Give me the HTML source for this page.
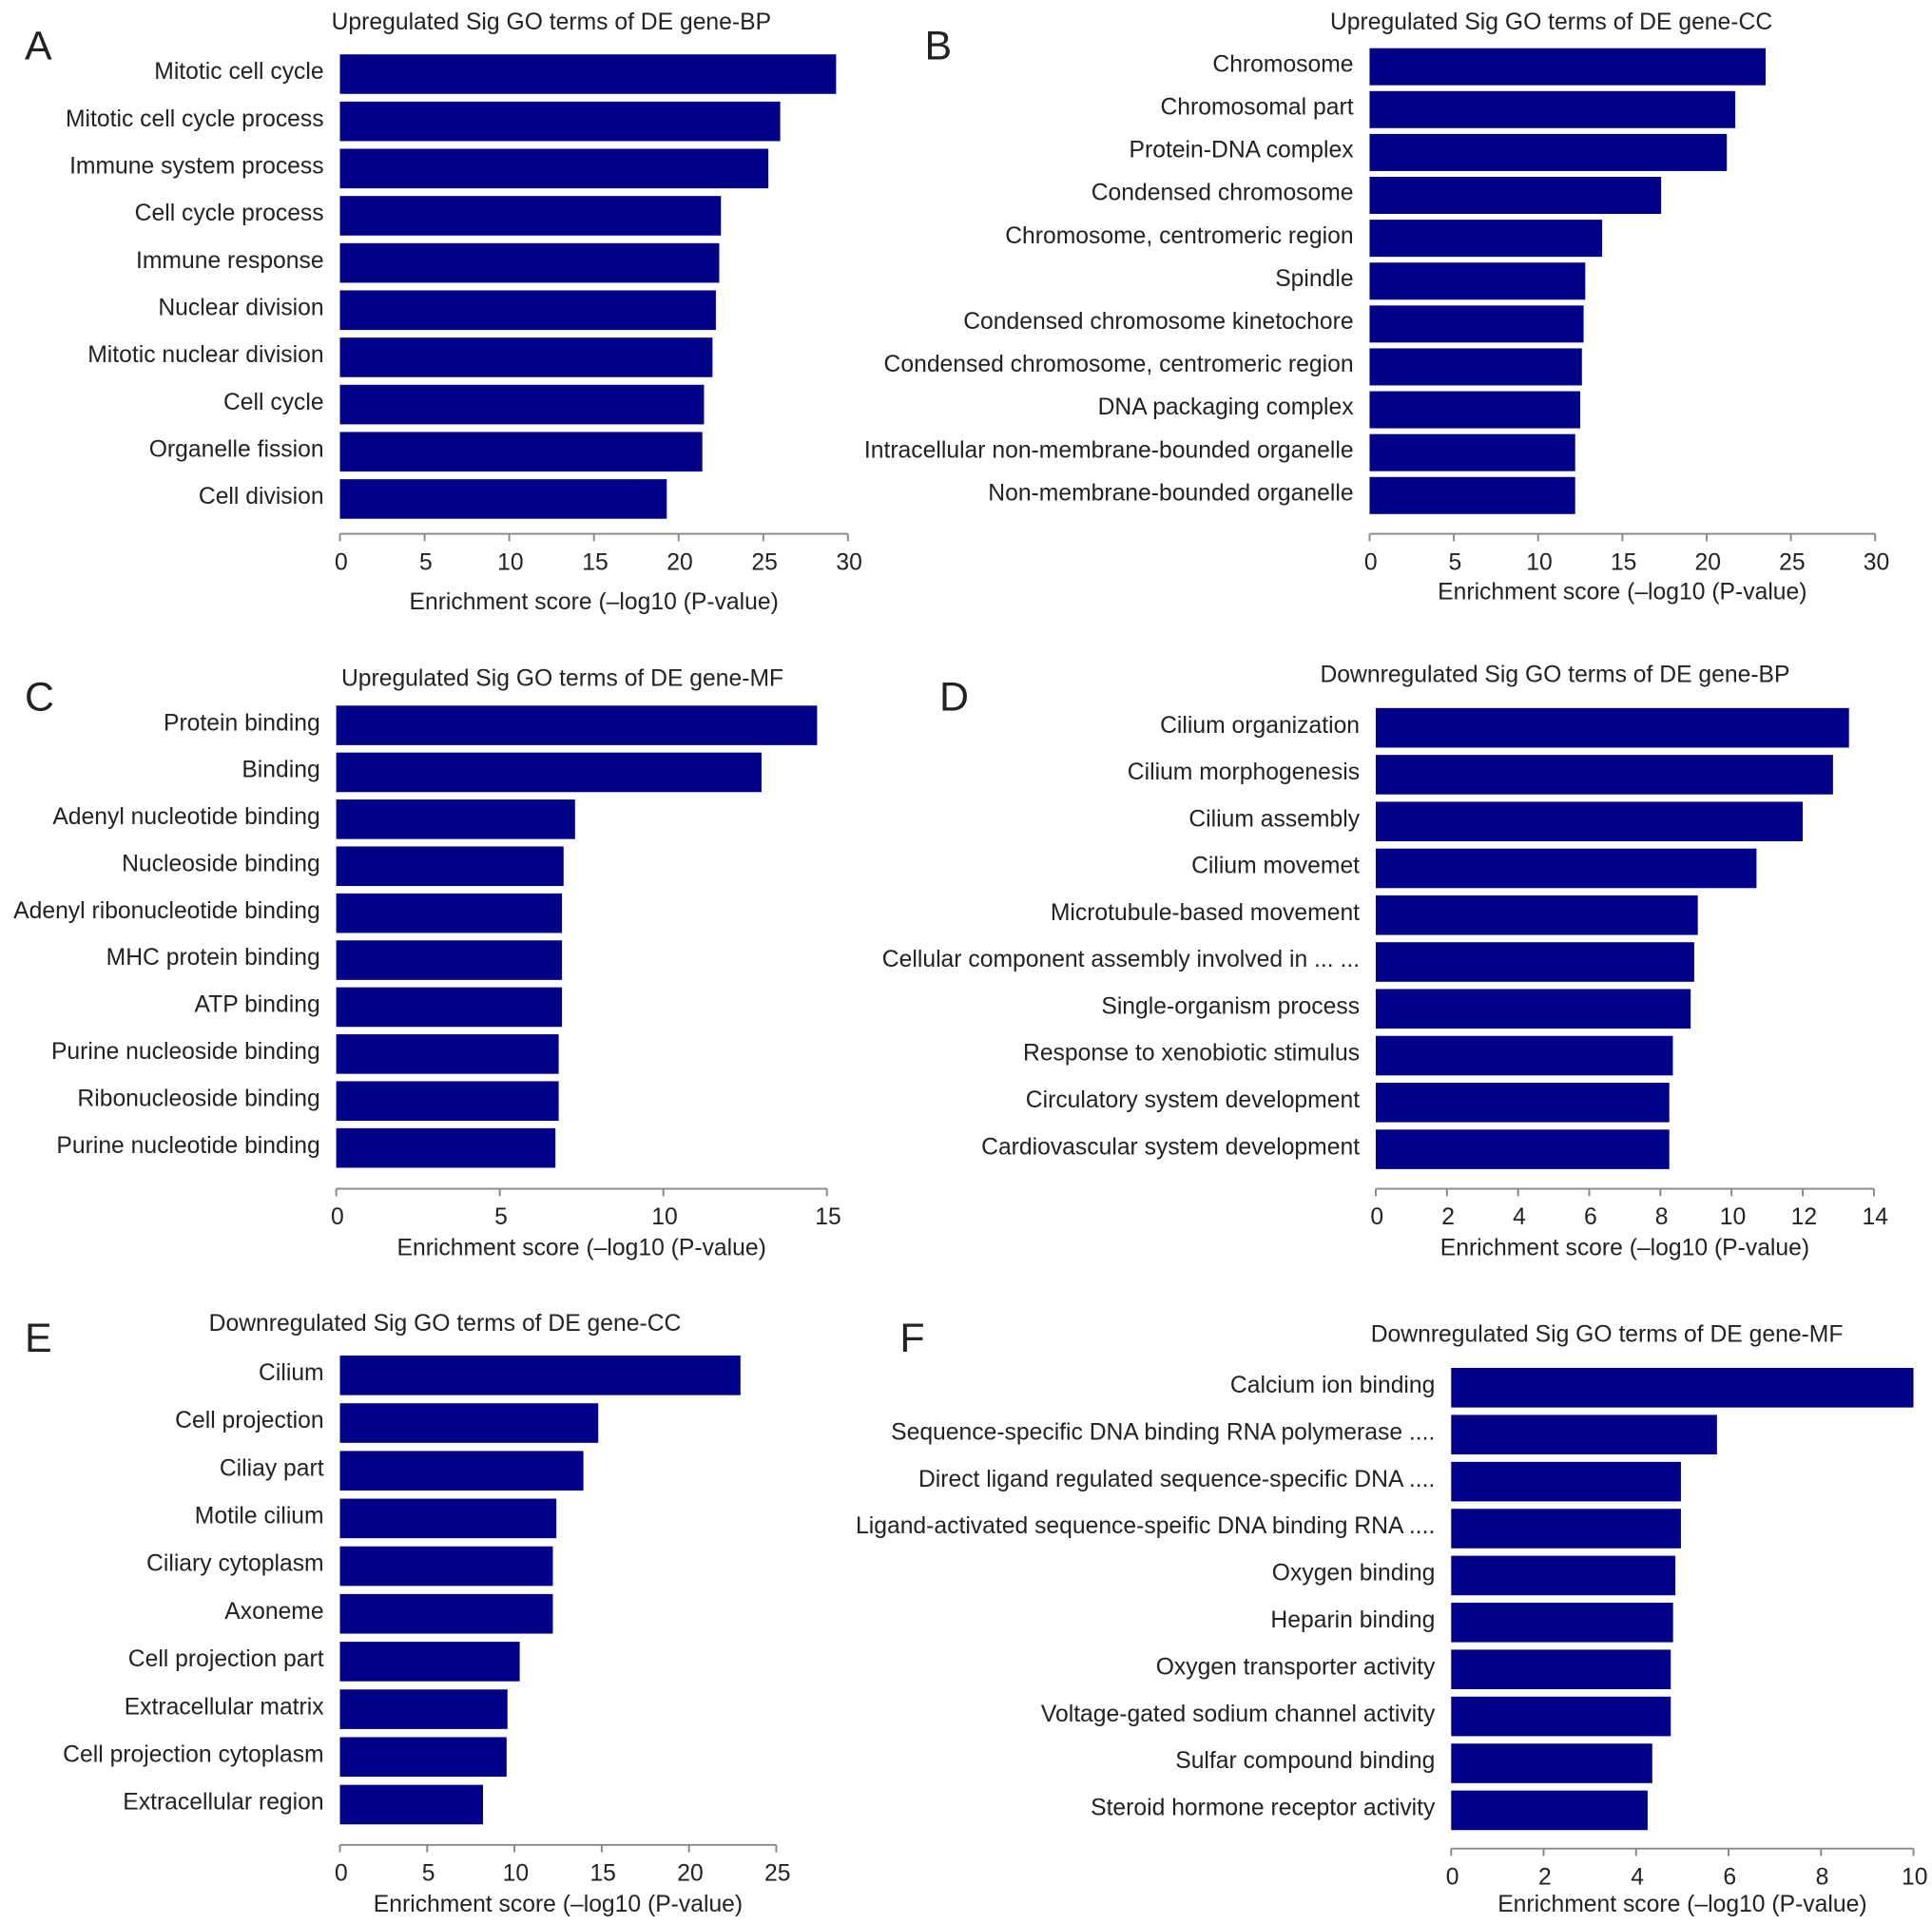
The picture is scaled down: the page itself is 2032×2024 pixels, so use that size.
<!DOCTYPE html>
<html><head><meta charset="utf-8"><style>
html,body{margin:0;padding:0;background:#fff}
svg{display:block}
text{font-family:"Liberation Sans",Arial,sans-serif;fill:#222}
</style></head><body>
<svg id="fig" width="2032" height="2024" viewBox="0 0 1563 1557" preserveAspectRatio="none" xmlns="http://www.w3.org/2000/svg"></svg>
<script>
const catsA=["Mitotic cell cycle","Mitotic cell cycle process","Immune system process","Cell cycle process","Immune response","Nuclear division","Mitotic nuclear division","Cell cycle","Organelle fission","Cell division"];
const valsA=[29.3,26,25.3,22.5,22.4,22.2,22.0,21.5,21.4,19.3];
const ticksA=[0,5,10,15,20,25,30];
const catsB=["Chromosome","Chromosomal part","Protein-DNA complex","Condensed chromosome","Chromosome, centromeric region","Spindle","Condensed chromosome kinetochore","Condensed chromosome, centromeric region","DNA packaging complex","Intracellular non-membrane-bounded organelle","Non-membrane-bounded organelle"];
const valsB=[23.5,21.7,21.2,17.3,13.8,12.8,12.7,12.6,12.5,12.2,12.2];
const ticksB=[0,5,10,15,20,25,30];
const catsC=["Protein binding","Binding","Adenyl nucleotide binding","Nucleoside binding","Adenyl ribonucleotide binding","MHC protein binding","ATP binding","Purine nucleoside binding","Ribonucleoside binding","Purine nucleotide binding"];
const valsC=[14.7,13.0,7.3,6.95,6.9,6.9,6.9,6.8,6.8,6.7];
const ticksC=[0,5,10,15];
const catsD=["Cilium organization","Cilium morphogenesis","Cilium assembly","Cilium movemet","Microtubule-based movement","Cellular component assembly involved in ... ...","Single-organism process","Response to xenobiotic stimulus","Circulatory system development","Cardiovascular system development"];
const valsD=[13.3,12.85,12.0,10.7,9.05,8.95,8.85,8.35,8.25,8.25];
const ticksD=[0,2,4,6,8,10,12,14];
const catsE=["Cilium","Cell projection","Ciliay part","Motile cilium","Ciliary cytoplasm","Axoneme","Cell projection part","Extracellular matrix","Cell projection cytoplasm","Extracellular region"];
const valsE=[22.95,14.8,13.95,12.4,12.2,12.2,10.3,9.6,9.55,8.2];
const ticksE=[0,5,10,15,20,25];
const catsF=["Calcium ion binding","Sequence-specific DNA binding RNA polymerase ....","Direct ligand regulated sequence-specific DNA ....","Ligand-activated sequence-speific DNA binding RNA ....","Oxygen binding","Heparin binding","Oxygen transporter activity","Voltage-gated sodium channel activity","Sulfar compound binding","Steroid hormone receptor activity"];
const valsF=[10.0,5.75,4.97,4.97,4.85,4.8,4.75,4.75,4.35,4.25];
const ticksF=[0,2,4,6,8,10];

const NS="http://www.w3.org/2000/svg";
const svg=document.getElementById('fig');
function mk(tag,attrs,parent){const e=document.createElementNS(NS,tag);for(const k in attrs)e.setAttribute(k,attrs[k]);(parent||svg).appendChild(e);return e;}

function panel(p){
  const g=mk('g',{});
  
  
  const lt=mk('text',{x:p.lx,y:p.ly,'font-size':33},g);lt.textContent=p.id;
  
  
  const tt=mk('text',{x:p.tx,y:p.ty,'font-size':19,'text-anchor':'middle'},g);tt.textContent=p.title;
  
  
  const xs=v=>p.x0+(v-p.tmin)/(p.tmax-p.tmin)*(p.x1-p.x0);
  p.cats.forEach((c,i)=>{
    const cy=p.c0+i*p.step;
    const r=mk('rect',{x:xs(0),y:cy-p.bh/2,width:xs(p.vals[i])-xs(0),height:p.bh,fill:'#000088'},g);
    
    
    const t=mk('text',{x:p.x0-13,y:cy+4,'font-size':19,'text-anchor':'end'},g);t.textContent=c;
    
    
  });
  const ax=mk('line',{x1:xs(p.tmin),x2:xs(p.tmax),y1:p.ay,y2:p.ay,stroke:'#888','stroke-width':1.5},g);
  
  
  p.ticks.forEach(v=>{
    const tk=mk('line',{x1:xs(v),x2:xs(v),y1:p.ay,y2:p.ay+6,stroke:'#888','stroke-width':1.5},g);
    
    
    const tl=mk('text',{x:xs(v)+1,y:p.ay+29,'font-size':19,'text-anchor':'middle'},g);tl.textContent=v;
    
    
  });
  const xt=mk('text',{x:(xs(p.tmin)+xs(p.tmax))/2,y:p.xty,'font-size':19,'text-anchor':'middle'},g);
  xt.textContent='Enrichment score (\u2013log10 (P-value)';
  
  
}
panel({id:'A',lx:20,ly:48,title:'Upregulated Sig GO terms of DE gene-BP',tx:446,ty:24,cats:catsA,vals:valsA,ticks:ticksA,tmin:0,tmax:30,x0:275,x1:686,c0:60,step:38.2,bh:32,ay:432,xty:493});
panel({id:'B',lx:748,ly:48,title:'Upregulated Sig GO terms of DE gene-CC',tx:1255,ty:24,cats:catsB,vals:valsB,ticks:ticksB,tmin:0,tmax:30,x0:1108,x1:1517,c0:54,step:34.7,bh:30,ay:432,xty:485});
panel({id:'C',lx:20,ly:575,title:'Upregulated Sig GO terms of DE gene-MF',tx:455,ty:555,cats:catsC,vals:valsC,ticks:ticksC,tmin:0,tmax:15,x0:272,x1:669,c0:587,step:38,bh:32,ay:962,xty:1016});
panel({id:'D',lx:760,ly:575,title:'Downregulated Sig GO terms of DE gene-BP',tx:1258,ty:552,cats:catsD,vals:valsD,ticks:ticksD,tmin:0,tmax:14,x0:1113,x1:1516,c0:589,step:37.9,bh:32,ay:962,xty:1016});
panel({id:'E',lx:20,ly:1094,title:'Downregulated Sig GO terms of DE gene-CC',tx:360,ty:1077,cats:catsE,vals:valsE,ticks:ticksE,tmin:0,tmax:25,x0:275,x1:628,c0:1113,step:38.6,bh:32,ay:1493,xty:1547});
panel({id:'F',lx:728,ly:1094,title:'Downregulated Sig GO terms of DE gene-MF',tx:1300,ty:1086,cats:catsF,vals:valsF,ticks:ticksF,tmin:0,tmax:10,x0:1174,x1:1548,c0:1123,step:38,bh:32,ay:1496,xty:1547});
</script>
</body></html>
